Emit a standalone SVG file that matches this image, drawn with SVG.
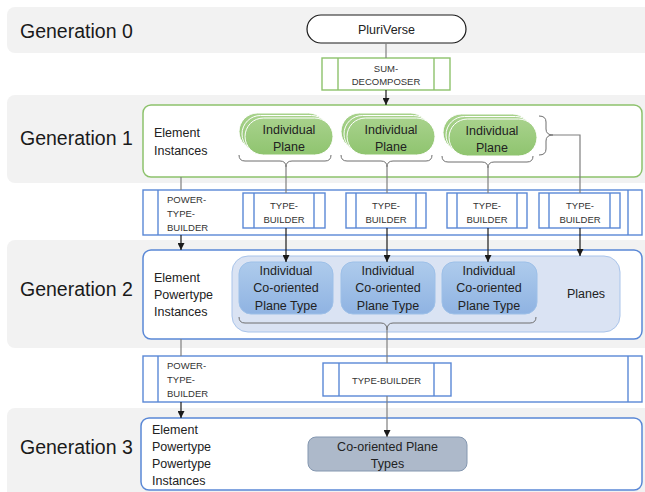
<svg xmlns="http://www.w3.org/2000/svg" width="645" height="492" viewBox="0 0 645 492">
<defs>
<style>
.band{fill:#f2f2f2}
.gen{font-family:"Liberation Sans",Arial,sans-serif;font-size:19.5px;fill:#1a1a1a}
.t13{font-family:"Liberation Sans",Arial,sans-serif;font-size:12.5px;fill:#222}
.t10{font-family:"Liberation Sans",Arial,sans-serif;font-size:9.5px;fill:#333}
.mid{text-anchor:middle}
.gbox{fill:#fff;stroke:#8dc26c;stroke-width:1.5}
.bbox{fill:#fff;stroke:#5a88d6;stroke-width:1.5}
.proc{fill:#fff;stroke:#5a88d6;stroke-width:1.4}
.gproc{fill:#fff;stroke:#8dc26c;stroke-width:1.4}
.plane{fill:url(#gg);stroke:#fff;stroke-width:1}
.btype{fill:url(#bg);stroke:#9dc0e8;stroke-width:1}
.line{fill:none;stroke:#7f7f7f;stroke-width:1.2}
.arr{fill:none;stroke:#1a1a1a;stroke-width:1.2;marker-end:url(#ah)}
.brace{fill:none;stroke:#6e6e6e;stroke-width:1}
</style>
<linearGradient id="gg" x1="0" y1="0" x2="0" y2="1">
<stop offset="0" stop-color="#a8d28c"/>
<stop offset="1" stop-color="#8fc46f"/>
</linearGradient>
<linearGradient id="bg" x1="0" y1="0" x2="0" y2="1">
<stop offset="0" stop-color="#aecbec"/>
<stop offset="1" stop-color="#8fb3e2"/>
</linearGradient>
<marker id="ah" viewBox="0 0 10 10" refX="10" refY="5" markerWidth="7" markerHeight="7" markerUnits="userSpaceOnUse" orient="auto">
<path d="M0,0 L10,5 L0,10 z" fill="#1a1a1a"/>
</marker>
</defs>

<g id="bands">
<rect class="band" x="7" y="7" width="650" height="46" rx="8"/>
<rect class="band" x="7" y="95" width="650" height="88" rx="8"/>
<rect class="band" x="7" y="240" width="650" height="108" rx="8"/>
<rect class="band" x="7" y="408" width="650" height="96" rx="8"/>
<text class="gen" x="20" y="38">Generation 0</text>
<text class="gen" x="20" y="145">Generation 1</text>
<text class="gen" x="20" y="296">Generation 2</text>
<text class="gen" x="20" y="454">Generation 3</text>
</g>

<g id="pluriverse">
<rect x="307" y="15" width="159" height="28" rx="14" fill="#fff" stroke="#1a1a1a" stroke-width="1.2"/>
<text class="t13 mid" x="386.5" y="33.5">PluriVerse</text>
</g>

<g id="sum-decomposer">
<rect class="gproc" x="322" y="58" width="128" height="32"/>
<line x1="338" y1="58" x2="338" y2="90" stroke="#8dc26c" stroke-width="1.4"/>
<line x1="434" y1="58" x2="434" y2="90" stroke="#8dc26c" stroke-width="1.4"/>
<text class="t10 mid" x="386" y="72">SUM-</text>
<text class="t10 mid" x="386" y="85">DECOMPOSER</text>
</g>

<g id="gen1-box">
<rect class="gbox" x="143" y="105" width="499" height="72" rx="8"/>
<text class="t13" x="154" y="137">Element</text>
<text class="t13" x="154" y="155">Instances</text>
</g>

<g id="plane1">
<rect class="plane" x="239" y="113" width="88" height="37" rx="18.5"/>
<rect class="plane" x="242" y="115.5" width="88" height="37" rx="18.5"/>
<rect class="plane" x="245" y="118" width="88" height="37" rx="18.5"/>
<text class="t13 mid" x="289" y="134">Individual</text>
<text class="t13 mid" x="289" y="151">Plane</text>
</g>
<g id="plane2">
<rect class="plane" x="341" y="113" width="88" height="37" rx="18.5"/>
<rect class="plane" x="344" y="115.5" width="88" height="37" rx="18.5"/>
<rect class="plane" x="347" y="118" width="88" height="37" rx="18.5"/>
<text class="t13 mid" x="391" y="134">Individual</text>
<text class="t13 mid" x="391" y="151">Plane</text>
</g>
<g id="plane3">
<rect class="plane" x="443" y="114" width="88" height="37" rx="18.5"/>
<rect class="plane" x="446" y="116.5" width="88" height="37" rx="18.5"/>
<rect class="plane" x="449" y="119" width="88" height="37" rx="18.5"/>
<text class="t13 mid" x="492" y="135">Individual</text>
<text class="t13 mid" x="492" y="152">Plane</text>
</g>

<g id="power-type-builder-1">
<rect class="proc" x="143" y="190" width="499" height="45"/>
<line x1="158" y1="190" x2="158" y2="235" stroke="#5a88d6" stroke-width="1.4"/>
<line x1="628" y1="190" x2="628" y2="235" stroke="#5a88d6" stroke-width="1.4"/>
<text class="t10" x="167" y="203">POWER-</text>
<text class="t10" x="167" y="217">TYPE-</text>
<text class="t10" x="167" y="231">BUILDER</text>
</g>

<g id="type-builder-1">
<rect class="proc" x="243" y="193" width="82" height="35"/>
<line x1="254" y1="193" x2="254" y2="228" stroke="#5a88d6" stroke-width="1.4"/>
<line x1="314" y1="193" x2="314" y2="228" stroke="#5a88d6" stroke-width="1.4"/>
<text class="t10 mid" x="284" y="209">TYPE-</text>
<text class="t10 mid" x="284" y="223">BUILDER</text>
</g>
<g id="type-builder-2">
<rect class="proc" x="346" y="193" width="80" height="35"/>
<line x1="356" y1="193" x2="356" y2="228" stroke="#5a88d6" stroke-width="1.4"/>
<line x1="416" y1="193" x2="416" y2="228" stroke="#5a88d6" stroke-width="1.4"/>
<text class="t10 mid" x="386" y="209">TYPE-</text>
<text class="t10 mid" x="386" y="223">BUILDER</text>
</g>
<g id="type-builder-3">
<rect class="proc" x="447" y="193" width="80" height="35"/>
<line x1="457" y1="193" x2="457" y2="228" stroke="#5a88d6" stroke-width="1.4"/>
<line x1="517" y1="193" x2="517" y2="228" stroke="#5a88d6" stroke-width="1.4"/>
<text class="t10 mid" x="487" y="209">TYPE-</text>
<text class="t10 mid" x="487" y="223">BUILDER</text>
</g>
<g id="type-builder-4">
<rect class="proc" x="539" y="193" width="81" height="35"/>
<line x1="549" y1="193" x2="549" y2="228" stroke="#5a88d6" stroke-width="1.4"/>
<line x1="610" y1="193" x2="610" y2="228" stroke="#5a88d6" stroke-width="1.4"/>
<text class="t10 mid" x="580" y="209">TYPE-</text>
<text class="t10 mid" x="580" y="223">BUILDER</text>
</g>

<g id="gen2-box">
<rect class="bbox" x="143" y="250" width="499" height="89" rx="8"/>
<text class="t13" x="154" y="282">Element</text>
<text class="t13" x="154" y="299">Powertype</text>
<text class="t13" x="154" y="316">Instances</text>
</g>

<g id="planes">
<rect x="232" y="256" width="388" height="76" rx="16" fill="#dae3f3" stroke="#a9c4ea" stroke-width="1"/>
<text class="t13 mid" x="586" y="298">Planes</text>
</g>

<g id="cotype1">
<rect class="btype" x="239" y="262" width="94" height="52" rx="12"/>
<text class="t13 mid" x="286" y="275">Individual</text>
<text class="t13 mid" x="286" y="292">Co-oriented</text>
<text class="t13 mid" x="286" y="310">Plane Type</text>
</g>
<g id="cotype2">
<rect class="btype" x="341" y="262" width="94" height="52" rx="12"/>
<text class="t13 mid" x="388" y="275">Individual</text>
<text class="t13 mid" x="388" y="292">Co-oriented</text>
<text class="t13 mid" x="388" y="310">Plane Type</text>
</g>
<g id="cotype3">
<rect class="btype" x="442" y="262" width="95" height="52" rx="12"/>
<text class="t13 mid" x="489" y="275">Individual</text>
<text class="t13 mid" x="489" y="292">Co-oriented</text>
<text class="t13 mid" x="489" y="310">Plane Type</text>
</g>

<g id="power-type-builder-2">
<rect class="proc" x="143" y="356" width="499" height="46"/>
<line x1="158" y1="356" x2="158" y2="402" stroke="#5a88d6" stroke-width="1.4"/>
<line x1="628" y1="356" x2="628" y2="402" stroke="#5a88d6" stroke-width="1.4"/>
<text class="t10" x="167" y="369">POWER-</text>
<text class="t10" x="167" y="383">TYPE-</text>
<text class="t10" x="167" y="397">BUILDER</text>
</g>

<g id="type-builder-5">
<rect class="proc" x="323" y="363" width="128" height="33"/>
<line x1="339" y1="363" x2="339" y2="396" stroke="#5a88d6" stroke-width="1.4"/>
<line x1="434" y1="363" x2="434" y2="396" stroke="#5a88d6" stroke-width="1.4"/>
<text class="t10 mid" x="386.5" y="383.5">TYPE-BUILDER</text>
</g>

<g id="gen3-box">
<rect class="bbox" x="141" y="418" width="501" height="72" rx="8"/>
<text class="t13" x="152" y="434">Element</text>
<text class="t13" x="152" y="451">Powertype</text>
<text class="t13" x="152" y="468">Powertype</text>
<text class="t13" x="152" y="485">Instances</text>
</g>

<g id="coplane-types">
<rect x="308" y="437" width="159" height="34" rx="8" fill="#adb9ca" stroke="#8497b0" stroke-width="1"/>
<text class="t13 mid" x="387.5" y="451">Co-oriented Plane</text>
<text class="t13 mid" x="387.5" y="468">Types</text>
</g>

<g id="connectors">
<line class="line" x1="386" y1="43" x2="386" y2="58" stroke="#333"/>
<line class="arr" x1="386" y1="90" x2="386" y2="105"/>
<!-- braces gen1 -->
<path class="brace" d="M239,155 Q239,161 245,161 L280,161 Q286,161 286,167 Q286,161 292,161 L325,161 Q331,161 331,155"/>
<path class="brace" d="M341,155 Q341,161 347,161 L381,161 Q387,161 387,167 Q387,161 393,161 L426,161 Q432,161 432,155"/>
<path class="brace" d="M442,156 Q442,162 448,162 L482,162 Q488,162 488,168 Q488,162 494,162 L527,162 Q533,162 533,156"/>
<path class="brace" d="M539,116 Q546,116 546,122 L546,129 Q546,135 553,135 Q546,135 546,141 L546,149 Q546,155 539,155"/>
<line class="line" x1="286" y1="167" x2="286" y2="193"/>
<line class="line" x1="387" y1="167" x2="387" y2="193"/>
<line class="line" x1="488" y1="168" x2="488" y2="193"/>
<polyline class="line" points="553,135 580,135 580,193"/>
<line class="line" x1="181" y1="177" x2="181" y2="190"/>
<line class="arr" x1="181" y1="235" x2="181" y2="250"/>
<line class="arr" x1="286" y1="228" x2="286" y2="262"/>
<line class="arr" x1="387" y1="228" x2="387" y2="262"/>
<line class="arr" x1="488" y1="228" x2="488" y2="262"/>
<line class="arr" x1="580" y1="228" x2="580" y2="256"/>
<!-- brace gen2 -->
<path class="brace" d="M239,317 Q239,323 245,323 L381,323 Q387,323 387,330 Q387,323 393,323 L530,323 Q536,323 536,317"/>
<line class="line" x1="387" y1="330" x2="387" y2="363"/>
<line class="line" x1="181" y1="339" x2="181" y2="356"/>
<line class="arr" x1="181" y1="402" x2="181" y2="418"/>
<line class="arr" x1="387" y1="396" x2="387" y2="437" style="stroke:#7f7f7f"/>
</g>
</svg>
